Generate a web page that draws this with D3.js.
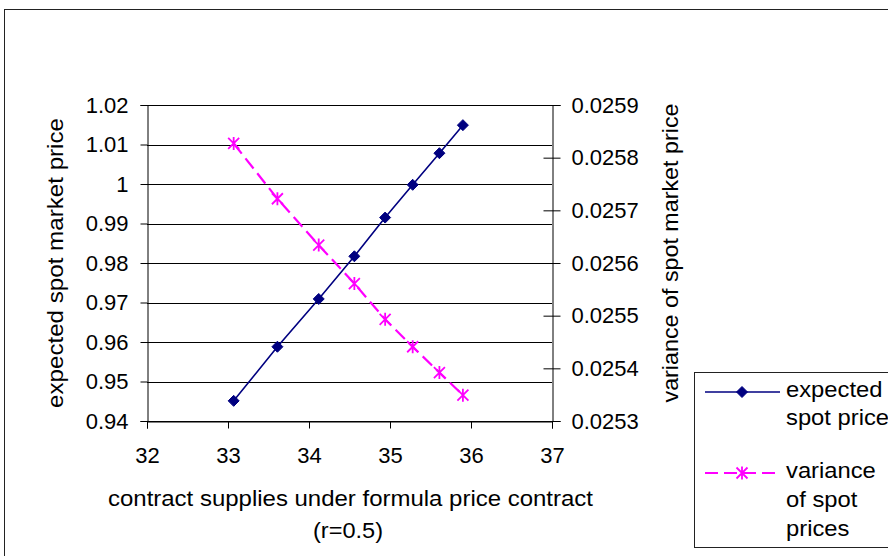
<!DOCTYPE html>
<html>
<head>
<meta charset="utf-8">
<script src="https://d3js.org/d3.v7.min.js"></script>
<style>
  body { margin: 0; padding: 0; background: #fff; }
  svg text { font-family: "Liberation Sans", Arial, sans-serif; fill: #000; }
</style>
</head>
<body>
<script>
// data
var supplies = [33.07, 33.61, 34.12, 34.56, 34.94, 35.28, 35.61, 35.90];
var expectedPrice = [0.9451, 0.9588, 0.9709, 0.9817, 0.9915, 0.9998, 1.0078, 1.0149];
var priceVariance = [0.025827, 0.025722, 0.025634, 0.025561, 0.025493, 0.025441, 0.025392, 0.025349];
var xTicks = [32, 33, 34, 35, 36, 37];
var leftTicks = [0.94, 0.95, 0.96, 0.97, 0.98, 0.99, 1.00, 1.01, 1.02];
var rightTicks = [0.0253, 0.0254, 0.0255, 0.0256, 0.0257, 0.0258, 0.0259];
var legendLabels = [["expected", "spot price"], ["variance", "of spot", "prices"]];

var w = 888, h = 556;
var plot = {left: 147, right: 552, top: 105, bottom: 421};
var fs = 22;

var svg = d3.select("body").append("svg")
    .attr("width", w)
    .attr("height", h);

// chart area border
svg.append("rect")
    .attr("x", 4.5).attr("y", 9.5)
    .attr("width", 900).attr("height", 600)
    .attr("fill", "none")
    .attr("stroke", "#222");

var x = d3.scaleLinear().domain([32, 37]).range([plot.left, plot.right]);
var yL = d3.scaleLinear().domain([0.94, 1.02]).range([plot.bottom, plot.top]);
var yR = d3.scaleLinear().domain([0.0253, 0.0259]).range([plot.bottom, plot.top]);

// gridlines
svg.append("g")
    .selectAll("line")
    .data(leftTicks)
    .enter().append("line")
    .attr("x1", plot.left).attr("x2", plot.right)
    .attr("y1", function(d) { return Math.round(yL(d)) + 0.5; })
    .attr("y2", function(d) { return Math.round(yL(d)) + 0.5; })
    .attr("stroke", "#000");

// axes
var fmtL = function(d) { return String(+d.toFixed(2)); };
var fmtR = function(d) { return d.toFixed(4); };

var gx = svg.append("g")
    .attr("transform", "translate(0," + (plot.bottom + 0.5) + ")")
    .call(d3.axisBottom(x).tickValues(xTicks).tickSize(7).tickPadding(19).tickFormat(d3.format("d")));

var gl = svg.append("g")
    .attr("transform", "translate(" + (plot.left + 0.5) + ",0)")
    .call(d3.axisLeft(yL).tickValues(leftTicks).tickSize(7).tickPadding(12).tickFormat(fmtL));

var gr = svg.append("g")
    .attr("transform", "translate(" + (plot.right + 0.5) + ",0)")
    .call(d3.axisRight(yR).tickValues(rightTicks).tickSize(8).tickPadding(11).tickFormat(fmtR));

// right axis ticks cross the axis line
gr.selectAll(".tick line").attr("x1", -9);

[gx, gl, gr].forEach(function(g) {
    g.select(".domain").attr("stroke", "#000");
    g.selectAll(".tick line").attr("stroke", "#000");
    g.selectAll(".tick text")
        .attr("font-family", "Liberation Sans, Arial, sans-serif")
        .attr("font-size", fs);
});
gx.selectAll(".tick text").attr("dy", "0.71em");

// axis titles (the reference text is a little wider than the font's natural width)
function title(tx, ty, rot, len, txt) {
    svg.append("text")
        .attr("transform", "translate(" + tx + "," + ty + ")" + (rot ? " rotate(-90)" : ""))
        .attr("text-anchor", "middle")
        .attr("font-size", fs)
        .attr("textLength", len)
        .attr("lengthAdjust", "spacingAndGlyphs")
        .text(txt);
}
title(63, 263, true, 290, "expected spot market price");
title(678, 253, true, 299, "variance of spot market price");
title(350.5, 506, false, 485, "contract supplies under formula price contract");
title(348, 538, false, 70, "(r=0.5)");

// series
var navy = "#000080", magenta = "#ff00ff";

function diamond(g, cx, cy) {
    g.append("path")
        .attr("d", "M" + cx + "," + (cy - 5.5) + "L" + (cx + 5.5) + "," + cy +
                   "L" + cx + "," + (cy + 5.5) + "L" + (cx - 5.5) + "," + cy + "Z")
        .attr("fill", navy)
        .attr("stroke", navy);
}

function star(g, cx, cy) {
    var r = 5.5;
    g.append("path")
        .attr("d", "M" + (cx - r) + "," + (cy - r) + "L" + (cx + r) + "," + (cy + r) +
                   "M" + (cx + r) + "," + (cy - r) + "L" + (cx - r) + "," + (cy + r) +
                   "M" + cx + "," + (cy - r - 1) + "L" + cx + "," + (cy + r + 1))
        .attr("fill", "none")
        .attr("stroke", magenta)
        .attr("stroke-width", 1.8);
}

var lineL = d3.line()
    .x(function(d, i) { return x(supplies[i]); })
    .y(function(d) { return yL(d); });
var lineR = d3.line()
    .x(function(d, i) { return x(supplies[i]); })
    .y(function(d) { return yR(d); });

svg.append("path")
    .datum(priceVariance)
    .attr("d", lineR)
    .attr("fill", "none")
    .attr("stroke", magenta)
    .attr("stroke-width", 2.2)
    .attr("stroke-dasharray", "13,6");

var starG = svg.append("g");
priceVariance.forEach(function(d, i) { star(starG, x(supplies[i]), yR(d)); });

svg.append("path")
    .datum(expectedPrice)
    .attr("d", lineL)
    .attr("fill", "none")
    .attr("stroke", navy)
    .attr("stroke-width", 1.6);

var diaG = svg.append("g");
expectedPrice.forEach(function(d, i) { diamond(diaG, x(supplies[i]), yL(d)); });

// legend
var lg = svg.append("g");
lg.append("rect")
    .attr("x", 694.5).attr("y", 372.5)
    .attr("width", 300).attr("height", 175)
    .attr("fill", "#fff")
    .attr("stroke", "#222");

lg.append("line")
    .attr("x1", 705).attr("x2", 780).attr("y1", 392).attr("y2", 392)
    .attr("stroke", navy).attr("stroke-width", 1.6);
diamond(lg, 742, 392);

lg.append("line")
    .attr("x1", 705).attr("x2", 780).attr("y1", 473).attr("y2", 473)
    .attr("stroke", magenta).attr("stroke-width", 2.2)
    .attr("stroke-dasharray", "13,6");
star(lg, 742, 473);

var legendY = [[397, 425], [478, 507, 536]];
legendLabels.forEach(function(lines, i) {
    lines.forEach(function(t, j) {
        var el = lg.append("text")
            .attr("x", 786)
            .attr("y", legendY[i][j])
            .attr("font-size", fs)
            .text(t);
        var len = el.node().getComputedTextLength();
        el.attr("textLength", len * 1.08).attr("lengthAdjust", "spacingAndGlyphs");
    });
});
</script>
</body>
</html>
